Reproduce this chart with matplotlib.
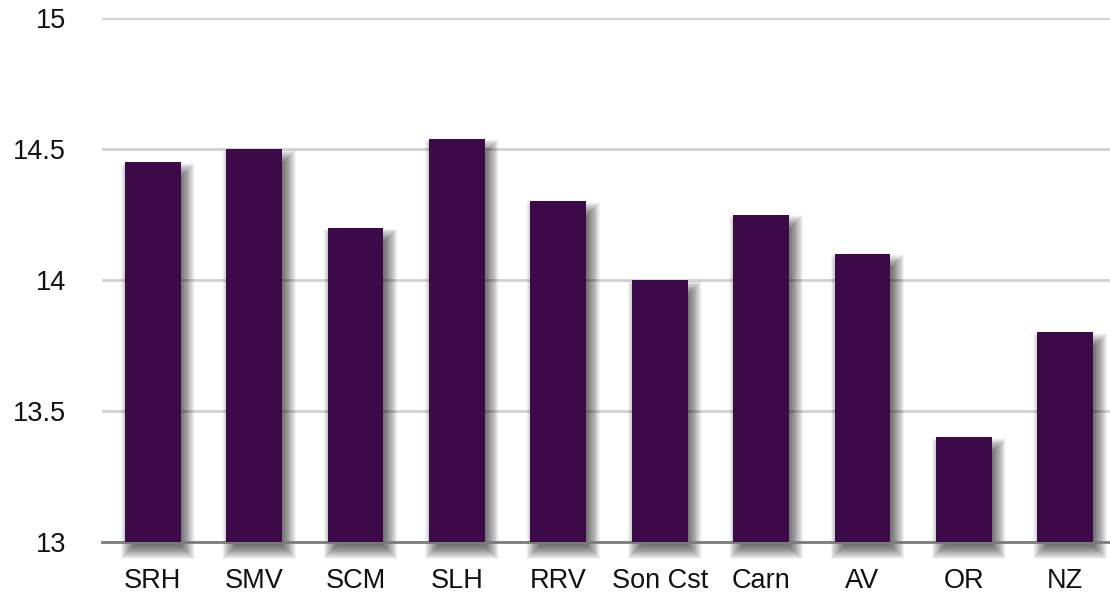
import matplotlib.pyplot as plt
from matplotlib.patches import Rectangle

regions = ["SRH", "SMV", "SCM", "SLH", "RRV", "Son Cst", "Carn", "AV", "OR", "NZ"]
values = [14.45, 14.50, 14.20, 14.54, 14.30, 14.00, 14.25, 14.10, 13.40, 13.80]
y_ticks = [13, 13.5, 14, 14.5, 15]
y_labels = ["13", "13.5", "14", "14.5", "15"]

BAR_COLOR = "#3c0a48"
W, H = 1110, 594

plt.rcParams["font.family"] = ["Liberation Sans", "DejaVu Sans"]

fig = plt.figure(figsize=(W / 100, H / 100), dpi=100)
# axes runs a little past the right edge, like the original
ax = fig.add_axes([102 / W, (H - 542) / H, 1014 / W, 524 / H])

x = list(range(len(regions)))
bar_w = 0.55
ax.set_xlim(-0.5, len(regions) - 0.5)
ax.set_ylim(13, 15)

# gridlines
for t in y_ticks[1:]:
    ax.axhline(t, color="#d2d2d2", lw=2, zorder=0)
ax.axhline(13, color="#7a7a7a", lw=2, zorder=3, clip_on=False)

# soft drop shadows: stacked translucent rectangles
px_x = 1.0 / 101.4
px_y = 1.0 / 262.0
dx, dy = 5 * px_x, 8 * px_y
n = 30
for xi, v in zip(x, values):
    for k in range(n):
        g = 14 * (1 - k / n) - 5
        r = Rectangle((xi - bar_w / 2 + dx - g * px_x, 13 - dy - g * px_y),
                      bar_w + 2 * g * px_x, (v - 13) + 2 * g * px_y - 2 * px_y,
                      facecolor="black", edgecolor="none", alpha=0.025,
                      zorder=1, clip_on=False)
        ax.add_patch(r)

ax.bar(x, [v - 13 for v in values], bottom=13, width=bar_w,
       color=BAR_COLOR, zorder=4)

ax.set_yticks(y_ticks)
ax.set_yticklabels(y_labels)
ax.set_xticks(x)
ax.set_xticklabels(regions)
ax.tick_params(axis="y", length=0, pad=26, labelsize=19.5, labelcolor="#111111")
ax.tick_params(axis="x", length=0, pad=19, labelsize=19.5, labelcolor="#111111")
for s in ax.spines.values():
    s.set_visible(False)

fig.savefig("out.png", dpi=100)
